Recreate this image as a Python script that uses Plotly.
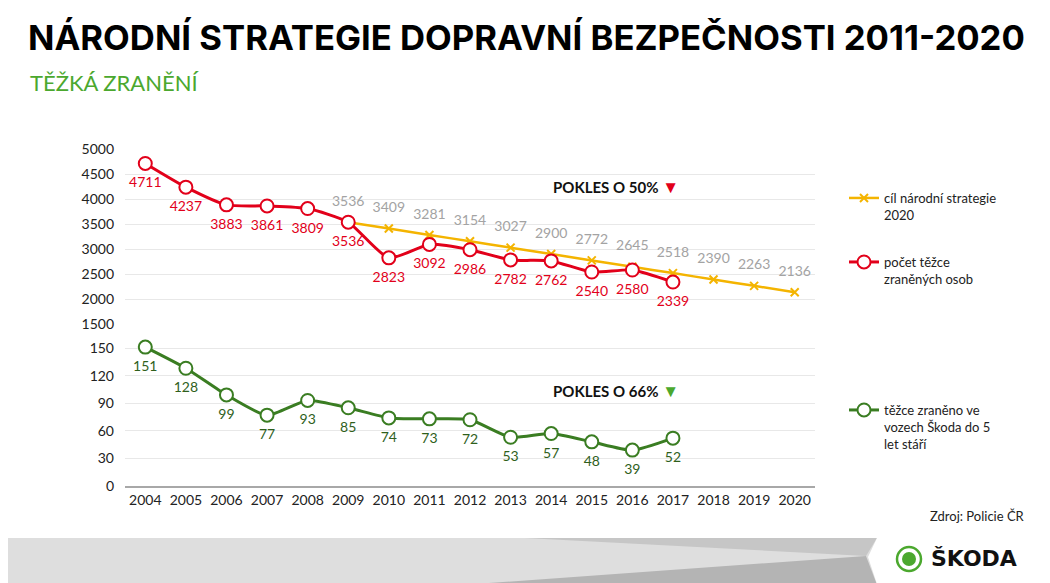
import plotly.graph_objects as go

years = list(range(2004, 2021))
years_actual = list(range(2004, 2018))
years_target = list(range(2009, 2021))
injured = [4711, 4237, 3883, 3861, 3809, 3536, 2823, 3092, 2986, 2782, 2762, 2540, 2580, 2339]
target = [3536, 3409, 3281, 3154, 3027, 2900, 2772, 2645, 2518, 2390, 2263, 2136]
skoda = [151, 128, 99, 77, 93, 85, 74, 73, 72, 53, 57, 48, 39, 52]
top_ticks = [1500, 2000, 2500, 3000, 3500, 4000, 4500, 5000]
bottom_ticks = [0, 30, 60, 90, 120, 150]

# page has an 8px body margin; work in page pixel coordinates
OFF = 8
PW, PH = 1050, 583
W, H = PW - OFF, PH - OFF
L, R, T, B = 125, 815, 149, 486  # plot area in page pixels

def px(xp):
    return (xp - L) / (R - L)

def py(yp):
    return (B - yp) / (B - T)

RED = "#e2001a"
YEL = "#f4b400"
GRN = "#3a7d22"
GREY_LBL = "#a3a3a3"
FONT = "Lato"

k2 = (486 - 348) / 150.0  # px per unit on lower axis
y2top = 152
y2top_px = 486 - y2top * k2

fig = go.Figure()
# lines + markers
fig.add_trace(go.Scatter(
    x=years_target, y=target, mode="lines+markers", name="cíl národní strategie<br>2020",
    line=dict(color=YEL, width=2.5, shape="spline"),
    marker=dict(symbol="x-thin", size=8, line=dict(color=YEL, width=2), color=YEL),
    cliponaxis=False, legend="legend", xaxis="x", yaxis="y"))
fig.add_trace(go.Scatter(
    x=years_actual, y=injured, mode="lines+markers", name="počet těžce<br>zraněných osob",
    line=dict(color=RED, width=3, shape="spline", smoothing=0.6),
    marker=dict(symbol="circle", size=13, color="white", line=dict(color=RED, width=2)),
    cliponaxis=False, legend="legend2", xaxis="x", yaxis="y"))
fig.add_trace(go.Scatter(
    x=years_actual, y=skoda, mode="lines+markers", name="těžce zraněno ve<br>vozech Škoda do 5<br>let stáří",
    line=dict(color=GRN, width=3, shape="spline", smoothing=0.6),
    marker=dict(symbol="circle", size=13, color="white", line=dict(color=GRN, width=2)),
    cliponaxis=False, legend="legend3", xaxis="x", yaxis="y2"))

# value labels (invisible larger markers to push labels away from points)
def labels(xs, ys, color, pos, size, yaxis):
    fig.add_trace(go.Scatter(
        x=xs, y=ys, mode="markers+text", showlegend=False, hoverinfo="skip",
        marker=dict(size=size, color="rgba(0,0,0,0)"),
        text=[str(v) for v in ys], textposition=pos,
        textfont=dict(color=color, size=14, family=FONT),
        cliponaxis=False, xaxis="x", yaxis=yaxis))

labels(years_target, target, GREY_LBL, "top center", 19, "y")
labels(years_actual, injured, RED, "bottom center", 20, "y")
labels(years_actual, skoda, "#2f5f1c", "bottom center", 20, "y2")

axis_font = dict(family=FONT, size=14, color="#222")
grid = "#e8e8e8"

legend_common = dict(font=dict(family=FONT, size=13, color="#222"), bgcolor="rgba(0,0,0,0)",
                     xanchor="left", yanchor="top", itemwidth=30, valign="top")

shapes = []
# footer band
shapes.append(dict(type="rect", xref="paper", yref="paper", x0=px(0), x1=px(1050), y0=py(538), y1=py(590),
                   fillcolor="#dedede", line=dict(width=0), layer="below"))
shapes.append(dict(type="path", xref="paper", yref="paper",
                   path=f"M {px(525)},{py(538)} L {px(877)},{py(538)} L {px(866)},{py(556)} Z",
                   fillcolor="#c6c6c6", line=dict(width=0), layer="below"))
shapes.append(dict(type="path", xref="paper", yref="paper",
                   path=f"M {px(391)},{py(590)} L {px(866)},{py(556)} L {px(879)},{py(590)} Z",
                   fillcolor="#b4b4b4", line=dict(width=0), layer="below"))
shapes.append(dict(type="path", xref="paper", yref="paper",
                   path=f"M {px(877)},{py(538)} L {px(1060)},{py(538)} L {px(1060)},{py(590)} L {px(879)},{py(590)} L {px(868)},{py(557)} Z",
                   fillcolor="white", line=dict(width=0), layer="below"))
# logo
shapes.append(dict(type="circle", xref="paper", yref="paper", x0=px(897), x1=px(921), y0=py(571), y1=py(547),
                   fillcolor="white", line=dict(color="#4ba82e", width=2.5)))
shapes.append(dict(type="circle", xref="paper", yref="paper", x0=px(902), x1=px(916), y0=py(566), y1=py(552),
                   fillcolor="#4ba82e", line=dict(width=0)))

annotations = [
    dict(xref="paper", yref="paper", x=px(28), y=py(83), xanchor="left", yanchor="middle",
         text="TĚŽKÁ ZRANĚNÍ", showarrow=False, font=dict(family=FONT, size=22, color="#4ba82e")),
    dict(xref="paper", yref="paper", x=px(616), y=py(186), xanchor="center", yanchor="middle",
         text="<b>POKLES O 50%</b> <span style='color:#e2001a;font-size:17px'>▼</span>", showarrow=False,
         font=dict(family=FONT, size=15, color="#111")),
    dict(xref="paper", yref="paper", x=px(616), y=py(390), xanchor="center", yanchor="middle",
         text="<b>POKLES O 66%</b> <span style='color:#4ba82e;font-size:17px'>▼</span>", showarrow=False,
         font=dict(family=FONT, size=15, color="#111")),
    dict(xref="paper", yref="paper", x=px(1027), y=py(516), xanchor="right", yanchor="middle",
         text="Zdroj: Policie ČR", showarrow=False, font=dict(family=FONT, size=13, color="#222")),
    dict(xref="paper", yref="paper", x=px(929), y=py(558), xanchor="left", yanchor="middle",
         text="<b>ŠKODA</b>", showarrow=False, font=dict(family="DejaVu Sans", size=22, color="#111")),
]

fig.update_layout(
    width=W, height=H,
    margin=dict(l=L - OFF, r=(W + OFF) - R, t=T - OFF, b=(H + OFF) - B, pad=0),
    paper_bgcolor="white", plot_bgcolor="white",
    title=dict(text="<b>NÁRODNÍ STRATEGIE DOPRAVNÍ BEZPEČNOSTI 2011-2020</b>",
               xref="container", yref="container", x=(28 - OFF) / W, xanchor="left",
               y=1 - (38 - OFF) / H, yanchor="middle",
               font=dict(family="Inter", size=34.7, color="#000", weight=900)),
    xaxis=dict(range=[2003.5, 2020.5], tickmode="array", tickvals=years, ticktext=[str(y) for y in years],
               showgrid=False, showline=True, linecolor="#a8a8a8", linewidth=1.5, anchor="y2",
               tickfont=axis_font, ticks="", zeroline=False),
    yaxis=dict(domain=[py(324), 1], range=[1500, 5000], tickvals=top_ticks,
               showgrid=True, gridcolor=grid, tickfont=axis_font, zeroline=False, ticks="",
               ticklabelstandoff=10),
    yaxis2=dict(domain=[0, py(y2top_px)], range=[0, y2top], tickvals=bottom_ticks,
                showgrid=True, gridcolor=grid, tickfont=axis_font, zeroline=False, ticks="",
                ticklabelstandoff=10),
    legend=dict(x=px(844), y=py(183), **legend_common),
    legend2=dict(x=px(844), y=py(247), **legend_common),
    legend3=dict(x=px(844), y=py(395), **legend_common),
    shapes=shapes, annotations=annotations, showlegend=True,
)

fig.write_html("out.html")
